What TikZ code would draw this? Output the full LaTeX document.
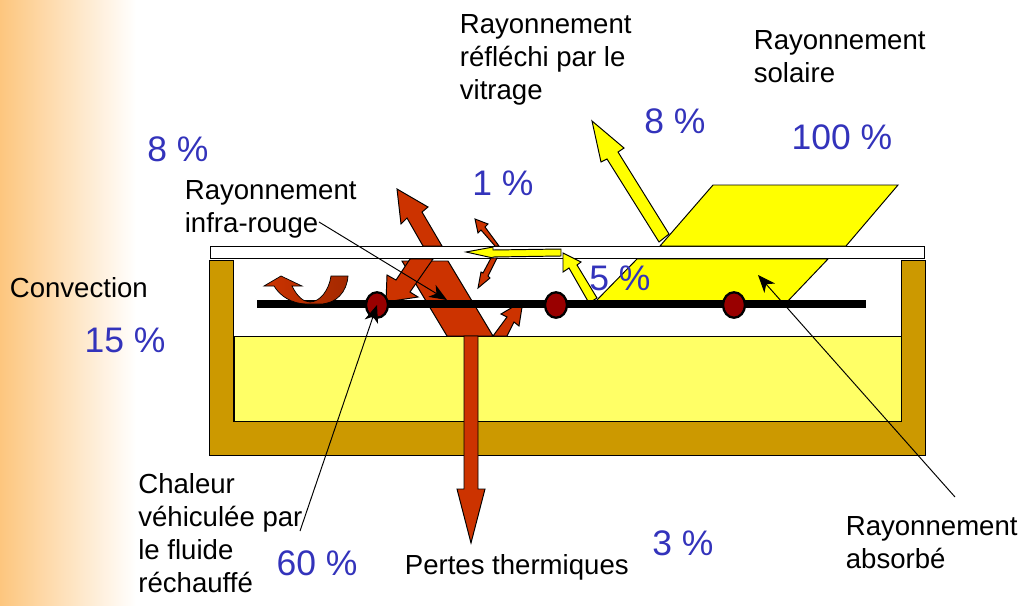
\documentclass[tikz,border=0pt]{standalone}
\usepackage{fontspec}
\setmainfont{Liberation Sans}
\usetikzlibrary{arrows.meta}
\usetikzlibrary{shapes.geometric}
\definecolor{wood}{HTML}{CC9900}
\definecolor{fluid}{HTML}{FFFF66}
\definecolor{heat}{HTML}{CC3300}
\definecolor{sun}{HTML}{FFFF00}
\definecolor{tubered}{HTML}{990000}
\definecolor{percent}{HTML}{3333BB}
\definecolor{sidebar}{HTML}{FDC67E}
\pgfdeclarehorizontalshading{sidefade}{100bp}{color(0bp)=(sidebar); color(25bp)=(sidebar); color(75bp)=(white); color(100bp)=(white)}
\tikzset{
  label/.style={font=\fontsize{15.7}{18.8}\selectfont, align=left, inner sep=0, anchor=west, text=black},
  rate/.style={font=\fontsize{20.2}{24}\selectfont, inner sep=0, text=percent},
  outline/.style={draw=black, line width=.55pt},
  hotarrow/.style={outline, fill=heat},
  sunarrow/.style={outline, fill=sun},
  tube/.style={ellipse, draw=black, line width=1.3pt, fill=tubered, minimum width=12.5pt, minimum height=14.5pt, inner sep=0},
  leader/.style={draw=black, line width=.55pt, -{Stealth[length=10pt,width=8pt,inset=3pt]}},
}
\begin{document}
\begin{tikzpicture}[x=.02cm,y=-.02cm]
\useasboundingbox (0,0) rectangle (1027,605);
\shade[shading=sidefade] (0,0) rectangle (136,605);
% collector box
\draw[outline, fill=wood] (209,260)--(233,260)--(233,421)--(901,421)--(901,260)--(925,260)--(925,455)--(209,455)--cycle;
\draw[outline, fill=fluid] (234,336) rectangle (901,421);
\draw[outline, fill=white] (210,246) rectangle (924,258);
% solar beam
\draw[outline, fill=sun] (713,185)--(898,185)--(846,246)--(660,246)--cycle;
\draw[sunarrow] (592,121)--(624,148)--(618,152)--(669,234)--(659,242)--(607,159)--(601,162)--cycle;
\draw[outline, fill=sun] (637,259)--(828,259)--(787,302)--(595,302)--cycle;
\draw[sunarrow] (563,253)--(581,262)--(577,265)--(597,298)--(589,303)--(569,268)--(563,272)--cycle;
% heat losses
\draw[hotarrow] (402,261)--(448,261)--(493,336)--(447,336)--cycle;
\draw[hotarrow] (397,189)--(428,207)--(422,212)--(442,246)--(423,246)--(407,218)--(401,224)--cycle;
\draw[hotarrow] (433,259)--(410,292)--(418,297)--(386,302)--(387,275)--(396,280)--(410,259)--cycle;
\draw[hotarrow] (493,336)--(507,336)--(514,322)--(519,326)--(523,301)--(501,314)--(507,317)--cycle;
\draw[hotarrow] (475,219)--(488,224)--(485,227)--(499,246)--(495,246)--(481,230)--(478,233)--cycle;
\draw[hotarrow] (497,258)--(491,258)--(483,273)--(481,272)--(478,288)--(490,278)--(488,276)--cycle;
\draw[sunarrow] (466,252)--(493,247)--(493,250)--(561,249)--(561,256)--(493,257)--(493,258)--cycle;
% absorber and tubes
\draw[black, line width=4pt] (257,304)--(866,304);
\draw[draw=black, line width=.4pt, left color=heat, right color=heat!80!black] (264,286)--(281,276)--(302,286)--(292,286) .. controls (297,296) and (303,302) .. (310,302) .. controls (320,302) and (329,290) .. (331,276)--(348,276) .. controls (347,292) and (336,304) .. (320,304)--(307,304) .. controls (292,304) and (280,296) .. (274,286)--cycle;
\draw[hotarrow] (464,336)--(478,336)--(478,489)--(485,489)--(471,543)--(457,489)--(464,489)--cycle;
\foreach \x/\n in {377/a,556/b,734/c} {
\node[tube] (tube\n) at (\x,305) {};
}
% texts
\node[label] (reflected) at (459.5,60) {Rayonnement\\réfléchi par le\\vitrage};
\node[label] (solar) at (753.5,57) {Rayonnement\\solaire};
\node[label] (infrared) at (184.5,209) {Rayonnement\\infra-rouge};
\node[label] (convection) at (9.5,288) {Convection};
\node[label] (carried) at (138,533) {Chaleur\\véhiculée par\\le fluide\\réchauffé};
\node[label] (losses) at (404.5,567) {Pertes thermiques};
\node[label] (absorbed) at (845.5,543) {Rayonnement\\absorbé};
\foreach \x/\y/\t/\n in {178/149/8/a,842/137/100/b,675/121/8/c,503/183/1/d,620/278/5/e,125/340/15/f,317/563/60/g,683/543/3/h} {
\node[rate] (rate\n) at (\x,\y) {\t\ \%};
}
% leaders
\coordinate (infraredstart) at (319,222);
\coordinate (infraredend) at (447,300);
\coordinate (carriedstart) at (300,531);
\coordinate (absorbedstart) at (955,497);
\coordinate (absorbedend) at (758,275);
\draw[leader] (infraredstart)--(infraredend);
\draw[leader] (carriedstart)--(tubea.center);
\draw[leader] (absorbedstart)--(absorbedend);
\end{tikzpicture}
\end{document}
